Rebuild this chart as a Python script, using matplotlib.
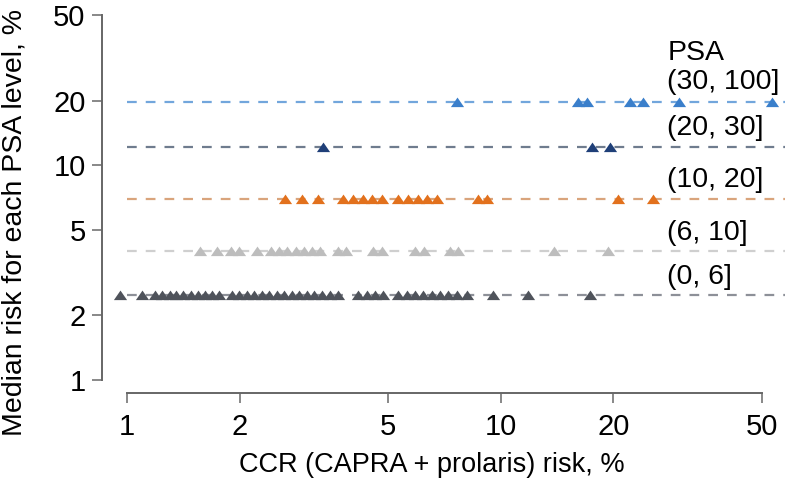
import matplotlib
matplotlib.use("Agg")
import matplotlib.pyplot as plt

plt.rcParams['font.family'] = ['Liberation Sans', 'DejaVu Sans']
plt.rcParams['lines.scale_dashes'] = False

# ---- data ----
groups = ["(30, 100]", "(20, 30]", "(10, 20]", "(6, 10]", "(0, 6]"]
median_risk = [19.8, 12.2, 7.0, 4.0, 2.5]

ccr_30_100 = [7.63, 16.07, 16.98, 22.13, 23.97, 29.9, 53.0]
ccr_20_30 = [3.34, 17.5, 19.56]
ccr_10_20 = [2.65, 2.94, 3.24, 3.78, 4.02, 4.27, 4.52, 4.81, 5.30, 5.64,
             6.00, 6.34, 6.74, 8.68, 9.18, 20.55, 25.5]
ccr_6_10 = [1.57, 1.74, 1.90, 1.99, 2.23, 2.43, 2.55, 2.68, 2.83, 2.97,
            3.12, 3.28, 3.67, 3.85, 4.55, 4.81, 5.89, 6.22, 7.31, 7.67,
            13.86, 19.32]
ccr_0_6 = [0.958, 1.10, 1.19, 1.24, 1.30, 1.35, 1.41, 1.48, 1.55, 1.62,
           1.69, 1.76, 1.91, 1.99, 2.09, 2.19, 2.30, 2.40, 2.52, 2.63,
           2.76, 2.88, 3.03, 3.16, 3.32, 3.49, 3.67, 4.15, 4.38, 4.60,
           4.84, 5.30, 5.61, 5.89, 6.19, 6.54, 6.87, 7.22, 7.63, 8.11,
           9.52, 11.81, 17.30]
ccr_values = [ccr_30_100, ccr_20_30, ccr_10_20, ccr_6_10, ccr_0_6]

x_ticks = [1, 2, 5, 10, 20, 50]
y_ticks = [1, 2, 5, 10, 20, 50]

marker_colors = ['#3a7fcb', '#1f3f78', '#e2711d', '#bdbdbd', '#4f535b']
line_colors = ['#72a6dc', '#6f7c8e', '#d9a47c', '#cfcfcf', '#8d9098']

# ---- figure ----
W, H = 785, 480
fig = plt.figure(figsize=(W / 100, H / 100), dpi=100)
ax = fig.add_axes([112 / W, 95 / H, (W - 112) / W, 385 / H])
ax.set_xscale('log')
ax.set_yscale('log')
ax.set_xlim(0.912, 57.5)
ax.set_ylim(0.948, 58.8)

tri = [(-1, -0.7), (1, -0.7), (0, 0.75), (-1, -0.7)]

for yv, xs, mc, lc in zip(median_risk, ccr_values, marker_colors, line_colors):
    ax.hlines(yv, 1, ax.get_xlim()[1], colors=lc, linestyles=(0, (7, 6.5)),
              linewidth=1.6, zorder=1)
    ax.plot(xs, [yv] * len(xs), linestyle='none', marker=tri, markersize=9.5,
            color=mc, markeredgewidth=0, zorder=2)

for s in ['top', 'right']:
    ax.spines[s].set_visible(False)
ax.spines['left'].set_position(('outward', 7))
ax.spines['bottom'].set_position(('outward', 6))
ax.spines['left'].set_bounds(1, 50)
ax.spines['bottom'].set_bounds(1, 50)
for s in ['left', 'bottom']:
    ax.spines[s].set_color('#666666')
    ax.spines[s].set_linewidth(1.4)

ax.set_xticks(x_ticks)
ax.set_xticklabels([str(t) for t in x_ticks])
ax.set_yticks(y_ticks)
ax.set_yticklabels([str(t) for t in y_ticks])
ax.minorticks_off()
ax.tick_params(axis='both', which='major', length=7, width=1.4,
               color='#888888', labelsize=21, labelcolor='black')
ax.tick_params(axis='x', pad=7)
ax.tick_params(axis='y', pad=5)

# legend-like labels
label_y = [0.787, 0.668, 0.532, 0.395, 0.28]
ax.text(0.825, 0.862, "PSA", transform=ax.transAxes, fontsize=20.5,
        va='center', ha='left')
for g, ly in zip(groups, label_y):
    ax.text(0.825, ly, g, transform=ax.transAxes, fontsize=20.5,
            va='center', ha='left')

fig.text(432 / W, 1 - 465 / H, "CCR (CAPRA + prolaris) risk, %",
         fontsize=19.5, ha='center', va='center')
fig.text(15 / W, 1 - 222 / H, "Median risk for each PSA level, %",
         fontsize=20.5, ha='center', va='center', rotation=90)

fig.savefig("out.png", dpi=100)
